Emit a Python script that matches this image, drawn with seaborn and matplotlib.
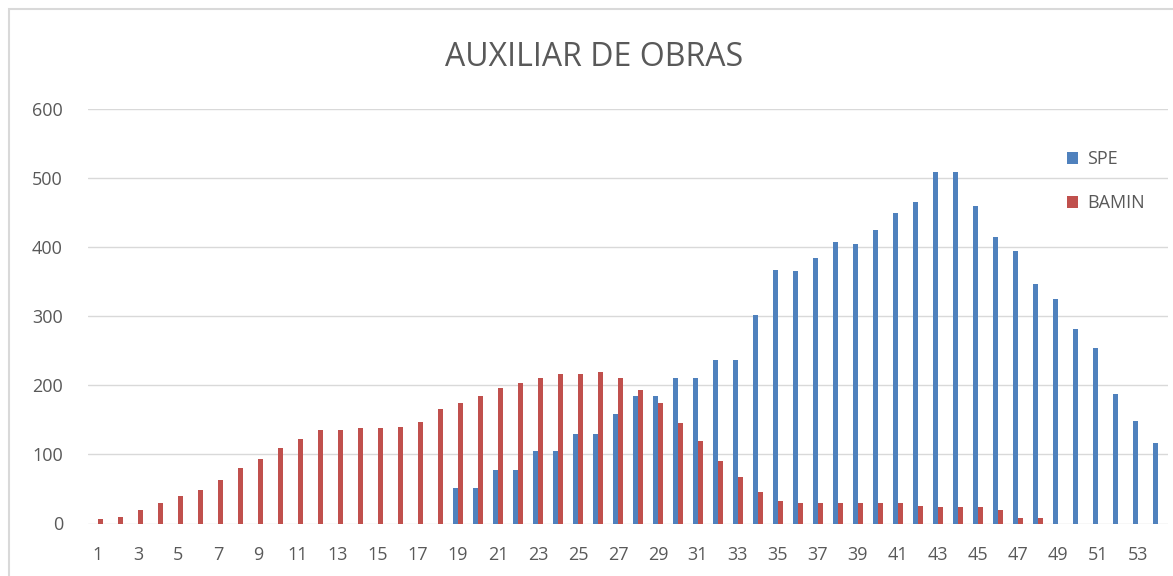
import pandas as pd
import matplotlib.pyplot as plt
import seaborn as sns
from matplotlib.patches import Rectangle

# values
categorias = list(range(1, 55))
spe = [0] * 18 + [52, 52, 77, 77, 105, 105, 130, 130, 158, 184, 184, 210,
                  210, 237, 237, 302, 367, 365, 385, 407, 404, 425, 449, 465,
                  509, 509, 460, 415, 395, 346, 325, 281, 254, 188, 149, 117]
bamin = [6, 10, 19, 29, 40, 49, 63, 80, 94, 110, 122, 136, 136, 138, 138, 140,
         147, 166, 175, 184, 196, 203, 210, 217, 217, 219, 210, 193, 175, 145,
         119, 91, 68, 45, 33, 29, 29, 29, 29, 29, 29, 26, 24, 24, 24, 19, 8, 8,
         0, 0, 0, 0, 0, 0]
series = ["SPE", "BAMIN"]
cores = {"SPE": "#4F81BD", "BAMIN": "#C0504D"}

df = pd.DataFrame({
    "cat": categorias * 2,
    "valor": spe + bamin,
    "serie": ["SPE"] * len(spe) + ["BAMIN"] * len(bamin),
})

sns.set_style("white")
plt.rcParams["font.family"] = ["Open Sans", "DejaVu Sans"]
texto = "#595959"

fig = plt.figure(figsize=(11.73, 5.76), dpi=100)
ax = fig.add_axes([88 / 1173, 1 - 523.5 / 576, 1080 / 1173, 414.5 / 576])

# chart border (cropped at right and bottom like the screenshot)
fig.patches.append(Rectangle((9 / 1173, -0.1), 1.2, 1 - 9 / 576 + 0.1,
                             transform=fig.transFigure, fill=False,
                             edgecolor="#d9d9d9", linewidth=1.5))

sns.barplot(data=df, x="cat", y="valor", hue="serie", hue_order=series,
            order=categorias, palette=cores, width=0.52, saturation=1,
            errorbar=None, linewidth=0, ax=ax, zorder=3)

ax.set_ylim(0, 600)
ax.set_yticks(range(0, 601, 100))
ax.grid(axis="y", color="#d9d9d9", linewidth=1, zorder=0)
ax.set_xticks(range(0, 54, 2))
ax.set_xticklabels([str(c) for c in categorias[::2]])
ax.tick_params(axis="both", length=0, labelsize=13, labelcolor=texto)
ax.tick_params(axis="y", pad=18)
ax.tick_params(axis="x", pad=16)
ax.set_xlabel("")
ax.set_ylabel("")
for s in ax.spines.values():
    s.set_visible(False)

fig.text(594 / 1173, 1 - 57 / 576, "AUXILIAR DE OBRAS", ha="center",
         va="center", fontsize=23, color=texto)

handles, labels = ax.get_legend_handles_labels()
ax.legend(handles, labels, loc="upper left",
          bbox_to_anchor=(1051 / 1173, 1 - 134 / 576),
          bbox_transform=fig.transFigure, frameon=False, fontsize=13,
          labelcolor=texto, handlelength=0.6, handleheight=0.6,
          handletextpad=0.5, labelspacing=1.45)

fig.savefig("out.png", dpi=100)
